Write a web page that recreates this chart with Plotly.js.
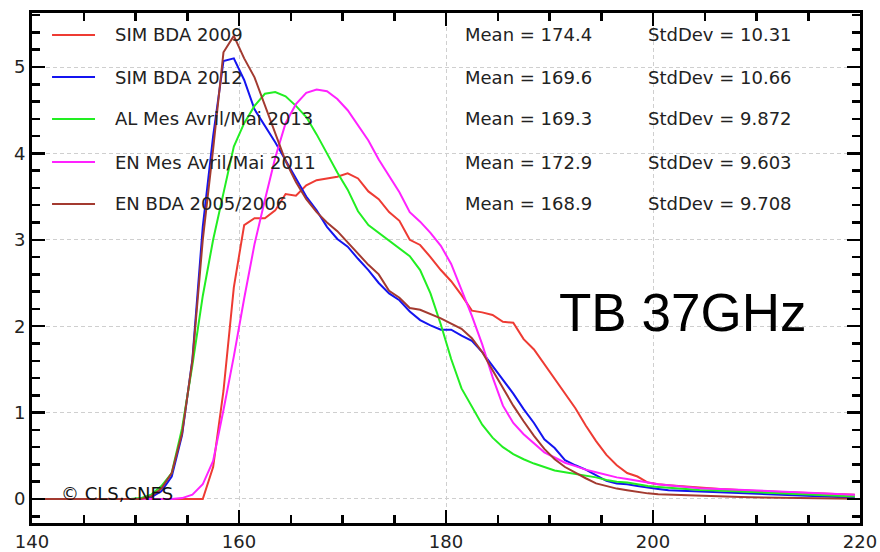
<!DOCTYPE html>
<html>
<head>
<meta charset="utf-8">
<script src="https://cdn.plot.ly/plotly-3.0.1.min.js"></script>
<style>html,body{margin:0;padding:0;background:#fff;}#chart{width:880px;height:552px;}</style>
</head>
<body>
<div id="chart"></div>
<script>
// Bin centres (TB, K)
var tb = [140.5,141.5,142.5,143.5,144.5,145.5,146.5,147.5,148.5,149.5,
          150.5,151.5,152.5,153.5,154.5,155.5,156.5,157.5,158.5,159.5,
          160.5,161.5,162.5,163.5,164.5,165.5,166.5,167.5,168.5,169.5,
          170.5,171.5,172.5,173.5,174.5,175.5,176.5,177.5,178.5,179.5,
          180.5,181.5,182.5,183.5,184.5,185.5,186.5,187.5,188.5,189.5,
          190.5,191.5,192.5,193.5,194.5,195.5,196.5,197.5,198.5,199.5,
          200.5,201.5,202.5,203.5,204.5,205.5,206.5,207.5,208.5,209.5,
          210.5,211.5,212.5,213.5,214.5,215.5,216.5,217.5,218.5,219.5];

var sim2009 = [0,0,0,0,0,0,0,0,0,0,
               0,0,0,0,0,0,0,0.37,1.25,2.45,
               3.17,3.25,3.25,3.34,3.53,3.51,3.63,3.69,3.71,3.73,
               3.77,3.71,3.56,3.47,3.32,3.22,3.00,2.94,2.80,2.65,
               2.52,2.36,2.18,2.16,2.13,2.05,2.04,1.85,1.73,1.56,
               1.40,1.22,1.05,0.85,0.67,0.51,0.39,0.30,0.26,0.19,
               0.17,0.16,0.15,0.14,0.13,0.12,0.115,0.11,0.10,0.095,
               0.09,0.085,0.08,0.075,0.07,0.065,0.06,0.06,0.055,0.05];

var sim2012 = [0,0,0,0,0,0,0,0,0,0,
               0,0.02,0.09,0.26,0.74,1.62,3.15,4.2,5.07,5.10,
               4.85,4.51,4.32,4.13,3.92,3.71,3.50,3.34,3.15,3.01,
               2.92,2.78,2.65,2.50,2.38,2.30,2.17,2.07,2.01,1.96,
               1.96,1.89,1.83,1.70,1.54,1.39,1.22,1.04,0.88,0.69,
               0.59,0.45,0.39,0.34,0.27,0.21,0.18,0.17,0.15,0.13,
               0.115,0.10,0.095,0.09,0.085,0.08,0.075,0.07,0.065,0.06,
               0.055,0.05,0.045,0.04,0.035,0.03,0.03,0.025,0.02,0.02];

var al2013 = [0,0,0,0,0,0,0,0,0,0,
              0.01,0.05,0.15,0.30,0.82,1.55,2.35,3.0,3.54,4.08,
              4.35,4.55,4.69,4.71,4.66,4.55,4.42,4.22,4.00,3.78,
              3.58,3.33,3.17,3.08,2.98,2.89,2.81,2.65,2.38,2.02,
              1.62,1.28,1.07,0.86,0.71,0.60,0.52,0.46,0.41,0.37,
              0.33,0.31,0.29,0.27,0.25,0.22,0.20,0.19,0.17,0.15,
              0.14,0.13,0.12,0.11,0.105,0.10,0.095,0.09,0.085,0.078,
              0.072,0.066,0.06,0.055,0.05,0.045,0.04,0.035,0.03,0.03];

var en2011 = [0,0,0,0,0,0,0,0,0,0,
              0,0,0,0,0.01,0.05,0.17,0.44,1.03,1.65,
              2.32,2.95,3.46,3.95,4.35,4.57,4.70,4.74,4.72,4.63,
              4.50,4.33,4.15,3.93,3.74,3.55,3.32,3.21,3.08,2.93,
              2.72,2.42,2.12,1.79,1.41,1.08,0.88,0.75,0.64,0.54,
              0.48,0.42,0.38,0.34,0.31,0.28,0.25,0.23,0.21,0.19,
              0.17,0.16,0.145,0.135,0.125,0.12,0.115,0.11,0.10,0.095,
              0.09,0.085,0.08,0.075,0.07,0.065,0.06,0.055,0.05,0.05];

var en2005 = [0,0,0,0,0,0,0,0,0,0,
              0,0.03,0.12,0.30,0.76,1.60,3.0,4.05,5.17,5.36,
              5.10,4.88,4.55,4.22,3.91,3.67,3.47,3.32,3.20,3.10,
              2.97,2.85,2.71,2.60,2.41,2.33,2.21,2.19,2.14,2.09,
              2.03,1.97,1.86,1.70,1.49,1.29,1.08,0.90,0.73,0.58,
              0.46,0.37,0.30,0.24,0.18,0.15,0.12,0.10,0.08,0.065,
              0.055,0.05,0.045,0.04,0.035,0.03,0.028,0.025,0.022,0.02,
              0.018,0.016,0.014,0.012,0.01,0.01,0.008,0.006,0.005,0.004];

var names = ["SIM BDA 2009","SIM BDA 2012","AL Mes Avril/Mai 2013","EN Mes Avril/Mai 2011","EN BDA 2005/2006"];
var means = ["Mean = 174.4","Mean = 169.6","Mean = 169.3","Mean = 172.9","Mean = 168.9"];
var stds  = ["StdDev = 10.31","StdDev = 10.66","StdDev = 9.872","StdDev = 9.603","StdDev = 9.708"];
var xTicks = [140,160,180,200,220];
var yTicks = [0,1,2,3,4,5];

var series = [sim2009, sim2012, al2013, en2011, en2005];
var colors = ["#ee3b33","#1414f0","#22ee22","#ff22ff","#a33a30"];

var traces = series.map(function(s,i){
  return {x: tb, y: s, type:'scatter', mode:'lines', name: names[i],
          line:{color: colors[i], width:2}, showlegend:false, hoverinfo:'skip'};
});
var shapes = [];
var annotations = [];
var rowY = [0.9569,0.8745,0.7922,0.7078,0.6255];
var txtFont = {size:18, color:'#222', family:'DejaVu Sans'};
for (var i=0;i<names.length;i++){
  shapes.push({type:'line', xref:'paper', yref:'paper', x0:0.0242, x1:0.0761, y0:rowY[i], y1:rowY[i],
               line:{color:colors[i], width:2}});
  annotations.push({xref:'paper', yref:'paper', x:0.0975, y:rowY[i], xanchor:'left', yanchor:'middle',
                    text:names[i], showarrow:false, font:txtFont});
  annotations.push({xref:'paper', yref:'paper', x:0.5207, y:rowY[i], xanchor:'left', yanchor:'middle',
                    text:means[i], showarrow:false, font:txtFont});
  annotations.push({xref:'paper', yref:'paper', x:0.7417, y:rowY[i], xanchor:'left', yanchor:'middle',
                    text:stds[i], showarrow:false, font:txtFont});
}
annotations.push({xref:'paper', yref:'paper', x:0.634, y:0.412, xanchor:'left', yanchor:'middle',
                  text:'TB 37GHz', showarrow:false, font:{size:53, color:'#000', family:'Liberation Sans'}});
annotations.push({xref:'paper', yref:'paper', x:0.0325, y:0.057, xanchor:'left', yanchor:'middle',
                  text:'© CLS,CNES', showarrow:false, font:{size:18, color:'#111', family:'DejaVu Sans'}});

var axisCommon = {
  showline:true, linecolor:'#000', linewidth:3, mirror:'allticks',
  ticks:'inside', ticklen:13, tickwidth:2.5, tickcolor:'#000',
  showgrid:true, gridcolor:'#cfcfcf', griddash:'4px,3px', gridwidth:1,
  zeroline:false, tickfont:{size:18, color:'#222', family:'DejaVu Sans'}
};

var layout = {
  width:880, height:552,
  margin:{l:32, r:20, t:13, b:29, pad:0},
  paper_bgcolor:'#fff', plot_bgcolor:'#fff',
  font:{family:'DejaVu Sans', color:'#222'},
  xaxis: Object.assign({}, axisCommon, {range:[140,220], tickmode:'array', tickvals:xTicks,
          minor:{dtick:5, ticklen:8, tickwidth:2.5, tickcolor:'#000', ticks:'inside', showgrid:false}}),
  yaxis: Object.assign({}, axisCommon, {range:[-0.278,5.625], tickmode:'array', tickvals:yTicks,
          minor:{dtick:0.2, tick0:0, ticklen:8, tickwidth:2.5, tickcolor:'#000', ticks:'inside', showgrid:false}}),
  shapes: shapes,
  annotations: annotations,
  showlegend:false
};

Plotly.newPlot('chart', traces, layout, {staticPlot:true, displayModeBar:false});
</script>
</body>
</html>
